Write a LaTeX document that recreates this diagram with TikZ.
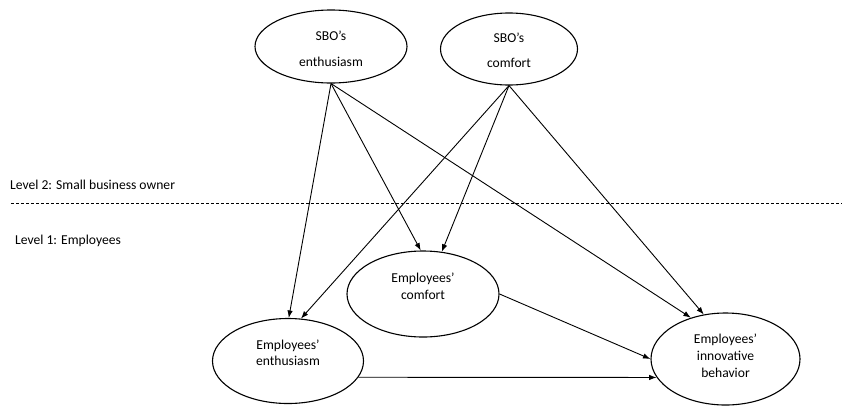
\documentclass[tikz,border=0pt]{standalone}
\usepackage{fontspec}
\setmainfont{Carlito}
\usetikzlibrary{shapes.geometric, arrows.meta}

\tikzstyle{construct}=[ellipse, draw, line width=1.1pt, inner sep=0pt,
  font=\fontsize{13.6}{17}\selectfont]
\tikzstyle{path}=[line width=0.9pt, -{Latex[length=7.5pt, width=5.5pt]}]
\tikzstyle{level}=[anchor=west, inner sep=0pt, font=\fontsize{13.6}{17}\selectfont]

% text of a construct, lifted by #1
\newcommand{\lifted}[2]{\raisebox{#1}[\height][\depth]{\begin{tabular}{@{}c@{}}#2\end{tabular}}}

\begin{document}
\begin{tikzpicture}[x=1pt, y=-1pt]
    \useasboundingbox (0,0) rectangle (842,405);

    % owner level
    \node[construct, minimum width=152pt, minimum height=73pt] (sboE) at (331,46.5) {\lifted{-4pt}{SBO's\\[9pt]enthusiasm}};
    \node[construct, minimum width=137pt, minimum height=72pt] (sboC) at (509,49) {\lifted{-3pt}{SBO's\\[8pt]comfort}};

    % employee level
    \node[construct, minimum width=152pt, minimum height=86pt] (empC) at (423,294) {\lifted{6pt}{Employees'\\comfort}};
    \node[construct, minimum width=151pt, minimum height=85pt] (empE) at (288,361) {\lifted{7pt}{Employees'\\[-1pt]enthusiasm}};
    \node[construct, minimum width=149pt, minimum height=92pt] (empI) at (725.5,359) {\lifted{2pt}{Employees'\\innovative\\behavior}};

    % levels
    \node[level] (lvlTwo) at (10,185) {Level 2: Small business owner};
    \node[level] (lvlOne) at (15,241) {Level 1: Employees};
    \coordinate (cutL) at (11,203);
    \coordinate (cutR) at (842,203);
    \draw[line width=0.9pt, dash pattern=on 3pt off 2pt] (cutL) -- (cutR);

    \draw[path] (sboE.south) -- (empE.89);
    \draw[path] (sboE.south) -- (empC.93);
    \draw[path] (sboE.south) -- (empI.130);
    \draw[path] (sboC.south) -- (empE.73);
    \draw[path] (sboC.south) -- (empC.66);
    \draw[path] (sboC.south) -- (empI.116);
    \draw[path] (empC.east) -- (empI.west);
    \draw[path] (empE.-13) -- (empI.195);
\end{tikzpicture}
\end{document}
